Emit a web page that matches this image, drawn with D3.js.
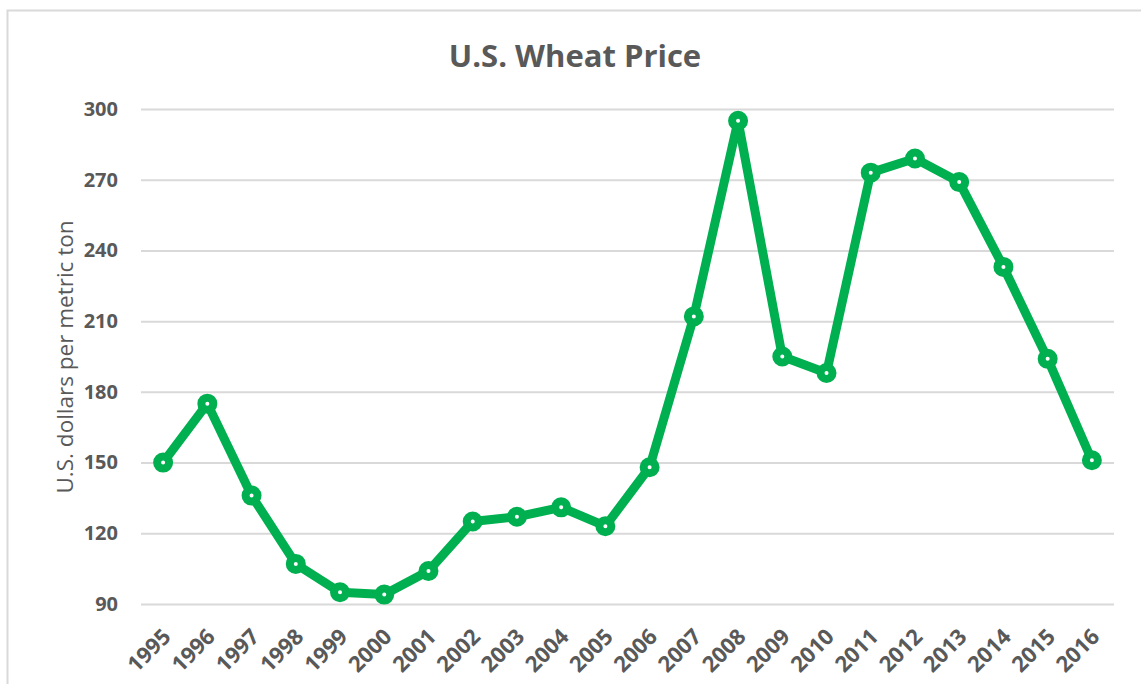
<!DOCTYPE html>
<html><head><meta charset="utf-8">
<script src="https://cdn.jsdelivr.net/npm/d3@7"></script>
<style>body{margin:0;background:#fff}svg{display:block}</style>
</head><body>
<svg id="c" width="1141" height="684"></svg>
<script>
const years = ["1995","1996","1997","1998","1999","2000","2001","2002","2003","2004","2005","2006","2007","2008","2009","2010","2011","2012","2013","2014","2015","2016"];
const prices = [150,175,136,107,95,94,104,125,127,131,123,148,212,295,195,188,273,279,269,233,194,151];
const yTicks = [90,120,150,180,210,240,270,300];
const title = "U.S. Wheat Price";
const yTitle = "U.S. dollars per metric ton";

(function(){
const svg = d3.select("#c");
const font = "'Open Sans', sans-serif";
const grey = "#595959";
const green = "#00B050";

svg.append("rect").attr("x",7.5).attr("y",10.5).attr("width",1150).attr("height",700)
  .attr("fill","#fff").attr("stroke","#d9d9d9").attr("stroke-width",2);

const pLeft = 141, pRight = 1114, pTop = 109, pBottom = 604;
const x = d3.scaleBand().domain(years).range([pLeft,pRight]);
const y = d3.scaleLinear().domain([90,300]).range([pBottom,pTop]);

const yAxis = svg.append("g").attr("transform",`translate(${pLeft},0)`)
  .call(d3.axisLeft(y).tickValues(yTicks).tickSize(-(pRight-pLeft)).tickPadding(23));
yAxis.select(".domain").remove();
yAxis.selectAll(".tick line").attr("stroke","#d9d9d9").attr("stroke-width",2);
yAxis.selectAll(".tick text").attr("fill",grey).attr("font-family",font)
  .attr("font-size",20).attr("font-weight","bold");

const xAxis = svg.append("g").attr("transform",`translate(0,${pBottom})`)
  .call(d3.axisBottom(x).tickSize(0).tickPadding(0));
xAxis.select(".domain").remove();
xAxis.selectAll(".tick text").attr("fill",grey).attr("font-family",font)
  .attr("font-size",22).attr("font-weight","bold")
  .attr("text-anchor","end").attr("dy",null).attr("y",null)
  .attr("transform","translate(9,34) rotate(-45)");

const cx = d => x(d) + x.bandwidth()/2;
const line = d3.line().x((d,i)=>cx(years[i])).y(d=>y(d));
svg.append("path").datum(prices).attr("d",line).attr("fill","none")
  .attr("stroke",green).attr("stroke-width",9).attr("stroke-linejoin","round");
svg.selectAll("circle.m").data(prices).join("circle").attr("class","m")
  .attr("cx",(d,i)=>cx(years[i])).attr("cy",d=>y(d)).attr("r",6)
  .attr("fill","#fff").attr("stroke",green).attr("stroke-width",8);

svg.append("text").attr("x",575).attr("y",67).attr("text-anchor","middle")
  .attr("fill",grey).attr("font-family",font).attr("font-size",31).attr("font-weight","bold")
  .text(title);

svg.append("text").attr("transform","translate(73,357) rotate(-90)").attr("text-anchor","middle")
  .attr("fill",grey).attr("font-family",font).attr("font-size",22.5)
  .text(yTitle);
})();
</script>
</body></html>
